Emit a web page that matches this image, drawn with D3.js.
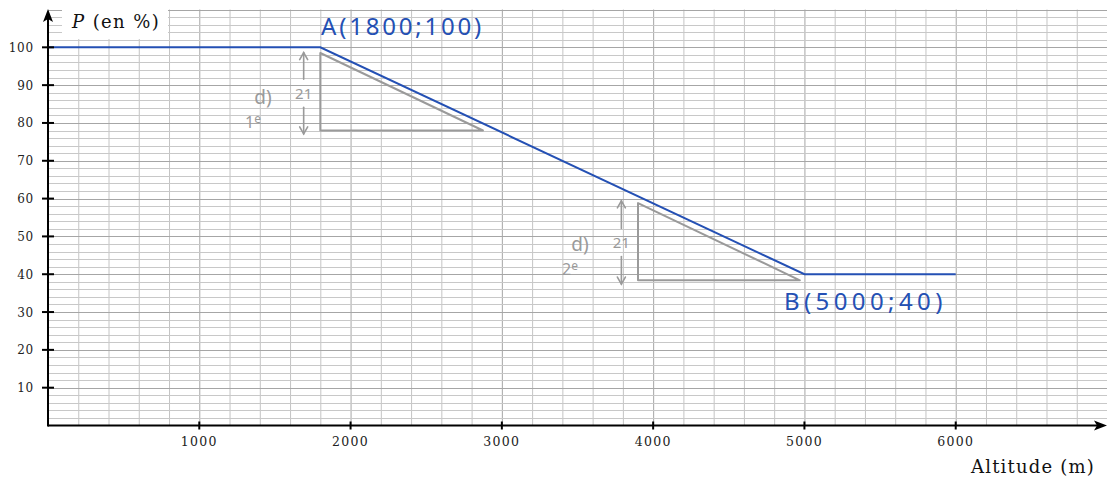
<!DOCTYPE html>
<html>
<head>
<meta charset="utf-8">
<script src="https://cdn.jsdelivr.net/npm/d3@7"></script>
<style>
  body { margin: 0; background: #fff; }
  svg { display: block; }
</style>
</head>
<body>
<svg id="chart" width="1107" height="478"></svg>
<script>
// courbe P(altitude)
var altitudes = [0, 1800, 5000, 6000];
var pressures = [100, 100, 40, 40];
var xTicks = [1000, 2000, 3000, 4000, 5000, 6000];
var yTicks = [10, 20, 30, 40, 50, 60, 70, 80, 90, 100];

// triangles de pente (en gris)
var triX1 = [1800, 2875], triY1 = [98.5, 78];
var triX2 = [3900, 4970], triY2 = [58.8, 38.4];
var arrowX = [1690, 3790];
var arrowTop = [98.6, 59.4], arrowBot = [77.1, 37.4];

var svg = d3.select('#chart');
var width = +svg.attr('width');
var height = +svg.attr('height');

var x = d3.scaleLinear().domain([0, 7000]).range([48, 1107]);
var y = d3.scaleLinear().domain([0, 110]).range([425.5, 9.5]);

var serif = "'DejaVu Serif', 'Liberation Serif', serif";
var hand = "'Noto Sans', 'DejaVu Sans', sans-serif";
var blue = '#2450b4';
var grey = '#9a9a9a';

// quadrillage
var grid = svg.append('g');
d3.range(200, 7001, 200).forEach(function(v) {
  grid.append('line')
    .attr('x1', x(v) + 0.5).attr('x2', x(v) + 0.5)
    .attr('y1', y(110)).attr('y2', y(0))
    .attr('stroke', v % 1000 === 0 ? '#a6a6a6' : '#c4c4c4')
    .attr('stroke-width', 1);
});
d3.range(2, 111, 2).forEach(function(v) {
  grid.append('line')
    .attr('x1', x(0)).attr('x2', x(7000))
    .attr('y1', Math.round(y(v)) + 0.5).attr('y2', Math.round(y(v)) + 0.5)
    .attr('stroke', v % 10 === 0 ? '#a6a6a6' : '#c8c8c8')
    .attr('stroke-width', 1);
});

// cadre blanc du titre
svg.append('rect').attr('x', 62).attr('y', 8).attr('width', 106).attr('height', 31).attr('fill', '#fff');
var t = svg.append('text').attr('x', 72).attr('y', 28)
  .style('font-family', serif).style('font-size', '18px').style('letter-spacing', '1.4px').attr('fill', '#111');
t.append('tspan').style('font-style', 'italic').text('P');
t.append('tspan').text(' (en %)');

// triangles
function triangle(tx, ty) {
  var pts = [[tx[0], ty[1]], [tx[1], ty[1]], [tx[0], ty[0]]];
  svg.append('path')
    .attr('d', d3.line().x(function(d) { return x(d[0]); }).y(function(d) { return y(d[1]); })(pts) + 'Z')
    .attr('fill', 'none').attr('stroke', grey).attr('stroke-width', 2)
    .attr('stroke-linejoin', 'round');
}
triangle(triX1, triY1);
triangle(triX2, triY2);

// fleches doubles "21"
arrowX.forEach(function(ax, i) {
  var px = x(ax), top = y(arrowTop[i]), bot = y(arrowBot[i]);
  var mid = (top + bot) / 2;
  var g = svg.append('g').attr('stroke', grey).attr('stroke-width', 1.6).attr('fill', 'none')
    .attr('stroke-linecap', 'round');
  g.append('path').attr('d', 'M' + px + ',' + (mid - 14) + 'L' + px + ',' + top);
  g.append('path').attr('d', 'M' + (px - 4) + ',' + (top + 7) + 'L' + px + ',' + top + 'L' + (px + 4) + ',' + (top + 7));
  g.append('path').attr('d', 'M' + px + ',' + (mid + 14) + 'L' + px + ',' + bot);
  g.append('path').attr('d', 'M' + (px - 4) + ',' + (bot - 7) + 'L' + px + ',' + bot + 'L' + (px + 4) + ',' + (bot - 7));
  svg.append('text').attr('x', px).attr('y', mid + 6)
    .attr('text-anchor', 'middle').attr('fill', grey)
    .style('font-family', hand).style('font-size', '15px')
    .text('21');
});

// notes "d) 1e" / "d) 2e"
var noteX = [263, 580], noteY = [104, 251], noteRank = ['1', '2'];
noteX.forEach(function(nx, i) {
  svg.append('text').attr('x', nx).attr('y', noteY[i])
    .attr('text-anchor', 'middle').attr('fill', grey)
    .style('font-family', hand).style('font-size', '19px')
    .text('d)');
  var r = svg.append('text').attr('x', nx - 10).attr('y', noteY[i] + 24)
    .attr('text-anchor', 'middle').attr('fill', grey)
    .style('font-family', hand).style('font-size', '16px');
  r.append('tspan').text(noteRank[i]);
  r.append('tspan').attr('dy', -5).style('font-size', '12px').text('e');
});

// courbe bleue
svg.append('path')
  .datum(d3.zip(altitudes, pressures))
  .attr('d', d3.line().x(function(d) { return x(d[0]); }).y(function(d) { return y(d[1]); }))
  .attr('fill', 'none').attr('stroke', blue).attr('stroke-width', 2);

// points A et B
svg.append('text').attr('x', 321).attr('y', 35).attr('fill', blue)
  .style('font-family', hand).style('font-size', '24px').style('letter-spacing', '2.8px')
  .text('A(1800;100)');
svg.append('text').attr('x', 784).attr('y', 310).attr('fill', blue)
  .style('font-family', hand).style('font-size', '24px').style('letter-spacing', '4.4px')
  .text('B(5000;40)');

// axes
var axes = svg.append('g').attr('stroke', '#000');
axes.append('line').attr('x1', x(0)).attr('x2', 1097).attr('y1', y(0)).attr('y2', y(0)).attr('stroke-width', 2);
axes.append('line').attr('x1', x(0)).attr('x2', x(0)).attr('y1', y(0) + 1).attr('y2', 18).attr('stroke-width', 2);
svg.append('path').attr('d', 'M1107,425.5 L1094,420.5 L1097,425.5 L1094,430.5 Z').attr('fill', '#000');
svg.append('path').attr('d', 'M48,9 L43,22 L48,19 L53,22 Z').attr('fill', '#000');

// graduations
yTicks.forEach(function(v) {
  svg.append('line').attr('x1', 42).attr('x2', 54).attr('y1', y(v)).attr('y2', y(v))
    .attr('stroke', '#000').attr('stroke-width', 2);
  svg.append('text').attr('x', 34).attr('y', y(v) + 4.5)
    .attr('text-anchor', 'end').attr('fill', '#222')
    .style('font-family', serif).style('font-size', '12px').style('letter-spacing', '0.8px').text(v);
});
xTicks.forEach(function(v) {
  svg.append('line').attr('x1', x(v)).attr('x2', x(v)).attr('y1', y(0) - 4).attr('y2', y(0) + 4)
    .attr('stroke', '#000').attr('stroke-width', 2);
  svg.append('text').attr('x', x(v)).attr('y', 446)
    .attr('text-anchor', 'middle').attr('fill', '#222')
    .style('font-family', serif).style('font-size', '12.5px').style('letter-spacing', '1.3px').text(v);
});

svg.append('text').attr('x', 1095).attr('y', 473).attr('text-anchor', 'end')
  .attr('fill', '#111').style('font-family', serif).style('font-size', '18px').style('letter-spacing', '1.2px')
  .text('Altitude (m)');
</script>
</body>
</html>
